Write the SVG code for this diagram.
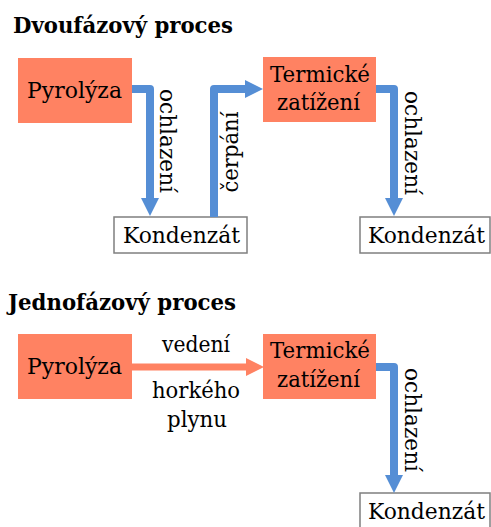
<svg xmlns="http://www.w3.org/2000/svg" width="491" height="527" viewBox="0 0 491 527">
<defs>
<style>
.hot{fill:#FF8262}
.cond{fill:#fff;stroke:#7f7f7f;stroke-width:1.5}
.blue{fill:none;stroke:#558ED5;stroke-width:8;stroke-linejoin:round}
.orange{fill:none;stroke:#FF8262;stroke-width:7}
.bh{fill:#558ED5}
.oh{fill:#FF8262}
</style>
</defs>
<rect width="491" height="527" fill="#fff"/>
<text x="13" y="33" font-family="DejaVu Serif" font-size="22" font-weight="bold" textLength="220" lengthAdjust="spacingAndGlyphs">Dvoufázový proces</text>
<text x="8" y="310" font-family="DejaVu Serif" font-size="22" font-weight="bold" textLength="228" lengthAdjust="spacingAndGlyphs">Jednofázový proces</text>

<g id="pyrolyza1"><rect class="hot" x="18" y="58" width="114" height="65"/><text x="74.5" y="98" font-family="DejaVu Serif" font-size="22" text-anchor="middle" textLength="95" lengthAdjust="spacingAndGlyphs">Pyrolýza</text></g>
<g id="kondenzat1"><rect class="cond" x="114" y="217" width="133" height="36"/><text x="181.5" y="243" font-family="DejaVu Serif" font-size="22" text-anchor="middle" textLength="117" lengthAdjust="spacingAndGlyphs">Kondenzát</text></g>
<g id="termicke1"><rect class="hot" x="263" y="57" width="113" height="65"/><text x="320" y="82" font-family="DejaVu Serif" font-size="22" text-anchor="middle" textLength="100" lengthAdjust="spacingAndGlyphs">Termické</text><text x="318.5" y="110" font-family="DejaVu Serif" font-size="22" text-anchor="middle" textLength="83" lengthAdjust="spacingAndGlyphs">zatížení</text></g>
<g id="kondenzat2"><rect class="cond" x="360" y="217" width="130" height="36"/><text x="426.5" y="243" font-family="DejaVu Serif" font-size="22" text-anchor="middle" textLength="117" lengthAdjust="spacingAndGlyphs">Kondenzát</text></g>

<g id="pyrolyza2"><rect class="hot" x="18" y="334" width="114" height="65"/><text x="74.5" y="374" font-family="DejaVu Serif" font-size="22" text-anchor="middle" textLength="95" lengthAdjust="spacingAndGlyphs">Pyrolýza</text></g>
<g id="termicke2"><rect class="hot" x="263" y="334" width="113" height="65"/><text x="320" y="358" font-family="DejaVu Serif" font-size="22" text-anchor="middle" textLength="100" lengthAdjust="spacingAndGlyphs">Termické</text><text x="318.5" y="387" font-family="DejaVu Serif" font-size="22" text-anchor="middle" textLength="83" lengthAdjust="spacingAndGlyphs">zatížení</text></g>
<g id="kondenzat3"><rect class="cond" x="360" y="493" width="130" height="36"/><text x="426.5" y="519" font-family="DejaVu Serif" font-size="22" text-anchor="middle" textLength="117" lengthAdjust="spacingAndGlyphs">Kondenzát</text></g>

<g id="connectors">
<path class="blue" d="M132,89 H150 V199"/>
<polygon class="bh" points="141,198 159,198 150,216"/>
<path class="blue" d="M214,217 V89 H246"/>
<polygon class="bh" points="245,80 245,98 263,89"/>
<path class="blue" d="M376,89 H394 V199"/>
<polygon class="bh" points="385,198 403,198 394,216"/>
<path class="orange" d="M132,367 H247"/>
<polygon class="oh" points="246,358 246,376 264,367"/>
<path class="blue" d="M376,367 H394 V476"/>
<polygon class="bh" points="385,475 403,475 394,493"/>
<text transform="translate(160,141) rotate(90)" font-family="DejaVu Serif" font-size="22" text-anchor="middle" textLength="104" lengthAdjust="spacingAndGlyphs">ochlazení</text>
<text transform="translate(238,152) rotate(-90)" font-family="DejaVu Serif" font-size="22" text-anchor="middle" textLength="81" lengthAdjust="spacingAndGlyphs">čerpání</text>
<text transform="translate(405,143) rotate(90)" font-family="DejaVu Serif" font-size="22" text-anchor="middle" textLength="104" lengthAdjust="spacingAndGlyphs">ochlazení</text>
<text transform="translate(405,420) rotate(90)" font-family="DejaVu Serif" font-size="22" text-anchor="middle" textLength="104" lengthAdjust="spacingAndGlyphs">ochlazení</text>
<text x="196" y="352" font-family="DejaVu Serif" font-size="22" text-anchor="middle" textLength="68" lengthAdjust="spacingAndGlyphs">vedení</text>
<text x="196" y="398" font-family="DejaVu Serif" font-size="22" text-anchor="middle" textLength="88" lengthAdjust="spacingAndGlyphs">horkého</text>
<text x="197" y="427" font-family="DejaVu Serif" font-size="22" text-anchor="middle" textLength="60" lengthAdjust="spacingAndGlyphs">plynu</text>
</g>
</svg>
